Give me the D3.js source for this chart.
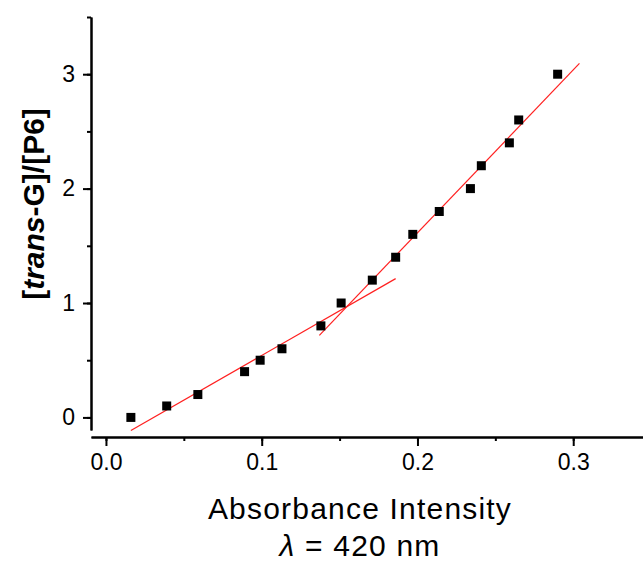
<!DOCTYPE html>
<html>
<head>
<meta charset="utf-8">
<script src="https://cdn.jsdelivr.net/npm/d3@7"></script>
<style>
  body { margin: 0; background: #fff; }
  text { font-family: Arial, "Liberation Sans", sans-serif; fill: #000; }
</style>
</head>
<body>
<div id="chart"></div>
<script>
// measured points
var absorbance = [0.016, 0.039, 0.059, 0.089, 0.099, 0.113, 0.138, 0.151, 0.171, 0.186,
                  0.197, 0.214, 0.234, 0.241, 0.259, 0.265, 0.290];
var ratio = [0, 0.1, 0.2, 0.4, 0.5, 0.6, 0.8, 1.0, 1.2, 1.4, 1.6, 1.8, 2.0, 2.2, 2.4, 2.6, 3.0];

// linear fits, read as end points
var fitLowX = [0.016, 0.186], fitLowY = [-0.114, 1.213];
var fitHighX = [0.137, 0.304], fitHighY = [0.717, 3.094];

var xTicks = [0, 0.1, 0.2, 0.3];
var yTicks = [0, 1, 2, 3];

var width = 643, height = 563;
var svg = d3.select("#chart").append("svg")
  .attr("width", width)
  .attr("height", height);

var x = d3.scaleLinear().domain([-0.0096, 0.3448]).range([91, 643]);
var y = d3.scaleLinear().domain([-0.11, 3.5]).range([430, 17]);

// x axis (minor then major)
var xMinor = d3.range(0, 0.35, 0.05);
svg.append("g")
  .attr("transform", "translate(0,437)")
  .call(d3.axisBottom(x).tickValues(xMinor).tickSize(4).tickSizeOuter(0).tickFormat(""))
  .call(function (g) { g.selectAll("path, line").attr("stroke", "#000").attr("stroke-width", 2); });
svg.append("g")
  .attr("transform", "translate(0,437)")
  .call(d3.axisBottom(x).tickValues(xTicks).tickSize(9).tickSizeOuter(0).tickPadding(8)
    .tickFormat(d3.format(".1f")))
  .call(function (g) {
    g.selectAll("path, line").attr("stroke", "#000").attr("stroke-width", 2);
    g.selectAll("text").attr("font-size", 23).attr("fill", "#000")
      .style("font-family", "Arial, 'Liberation Sans', sans-serif");
  });

// y axis
var yMinor = d3.range(0, 3.6, 0.5);
svg.append("g")
  .attr("transform", "translate(91,0)")
  .call(d3.axisLeft(y).tickValues(yMinor).tickSize(4).tickSizeOuter(0).tickFormat(""))
  .call(function (g) { g.selectAll("path, line").attr("stroke", "#000").attr("stroke-width", 2); });
svg.append("g")
  .attr("transform", "translate(91,0)")
  .call(d3.axisLeft(y).tickValues(yTicks).tickSize(8).tickSizeOuter(0).tickPadding(8)
    .tickFormat(d3.format("d")))
  .call(function (g) {
    g.selectAll("path, line").attr("stroke", "#000").attr("stroke-width", 2);
    g.selectAll("text").attr("font-size", 23).attr("fill", "#000")
      .style("font-family", "Arial, 'Liberation Sans', sans-serif");
  });

// fit lines
var line = d3.line()
  .x(function (d) { return x(d[0]); })
  .y(function (d) { return y(d[1]); });

[[fitLowX, fitLowY], [fitHighX, fitHighY]].forEach(function (f) {
  svg.append("path")
    .datum(d3.zip(f[0], f[1]))
    .attr("d", line)
    .attr("fill", "none")
    .attr("stroke", "#ff2020")
    .attr("stroke-width", 1.2);
});

// points
var sq = 9;
svg.selectAll(".pt")
  .data(d3.zip(absorbance, ratio))
  .enter()
  .append("rect")
  .attr("class", "pt")
  .attr("x", function (d) { return x(d[0]) - sq / 2; })
  .attr("y", function (d) { return y(d[1]) - sq / 2; })
  .attr("width", sq)
  .attr("height", sq)
  .attr("fill", "#000");

// axis titles
svg.append("text")
  .attr("x", 360)
  .attr("y", 519)
  .attr("text-anchor", "middle")
  .attr("font-size", 30)
  .attr("letter-spacing", 1.2)
  .text("Absorbance Intensity");

var lam = svg.append("text")
  .attr("x", 360)
  .attr("y", 556)
  .attr("text-anchor", "middle")
  .attr("font-size", 30)
  .attr("letter-spacing", 1.2);
lam.append("tspan").attr("font-style", "italic").text("λ");
lam.append("tspan").text(" = 420 nm");

var yt = svg.append("text")
  .attr("transform", "translate(44,204) rotate(-90)")
  .attr("text-anchor", "middle")
  .attr("font-size", 30)
  .attr("font-weight", "bold");
yt.append("tspan").text("[");
yt.append("tspan").attr("font-style", "italic").text("trans");
yt.append("tspan").text("-G]/[P6]");
</script>
</body>
</html>
